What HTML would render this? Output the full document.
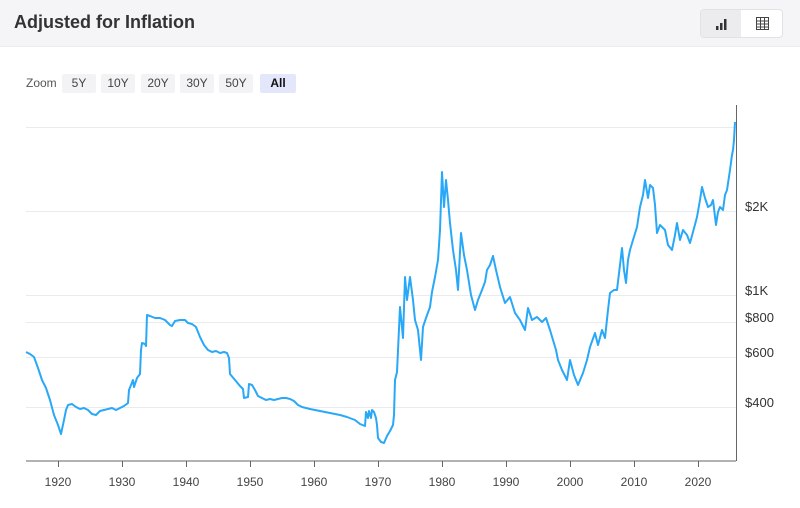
<!DOCTYPE html>
<html><head><style>
body{margin:0;width:800px;height:508px;background:#fff;font-family:"Liberation Sans",sans-serif;overflow:hidden;position:relative}
.hdr{position:absolute;left:0;top:0;width:800px;height:46px;background:#f5f5f7;border-bottom:1px solid #ececee}
.title{position:absolute;left:14px;top:12px;font-size:18px;font-weight:bold;color:#333}
.tg{position:absolute;left:700px;top:9px;width:81px;height:27px;border:1px solid #e2e2e6;border-radius:4px;background:#fff;overflow:hidden}
.tg .a{position:absolute;left:0;top:0;width:40px;height:27px;background:#ececef}
.zoom{position:absolute;top:74px;font-size:12px;color:#555;height:19px;line-height:19px}
.zb{position:absolute;top:74px;height:19px;line-height:19px;font-size:12px;color:#444;background:#f3f3f5;border-radius:2px;text-align:center}
</style></head><body>
<div class="hdr"><div class="title">Adjusted for Inflation</div>
<div class="tg"><div class="a"></div>
<svg width="81" height="27" style="position:absolute;left:0;top:0"><rect x="15" y="16" width="2.5" height="4" fill="#333"/><rect x="19" y="13" width="2.5" height="7" fill="#333"/><rect x="23" y="9" width="2.5" height="11" fill="#333"/>
<g stroke="#444" fill="none" stroke-width="1"><rect x="55.5" y="7.5" width="12" height="12"/><line x1="55.5" y1="11" x2="67.5" y2="11"/><line x1="55.5" y1="14" x2="67.5" y2="14"/><line x1="55.5" y1="17" x2="67.5" y2="17"/><line x1="59.5" y1="7.5" x2="59.5" y2="19.5"/><line x1="63.5" y1="7.5" x2="63.5" y2="19.5"/></g></svg></div></div>
<div class="zoom" style="left:26px">Zoom</div>
<div class="zb" style="left:62px;width:34px">5Y</div>
<div class="zb" style="left:101px;width:34px">10Y</div>
<div class="zb" style="left:141px;width:34px">20Y</div>
<div class="zb" style="left:180px;width:34px">30Y</div>
<div class="zb" style="left:219px;width:34px">50Y</div>
<div class="zb" style="left:260px;width:36px;background:#e4e6fb;color:#111;font-weight:bold">All</div>
<svg width="800" height="508" style="position:absolute;left:0;top:0">
<g stroke="#ebebed" stroke-width="1">
<line x1="26" y1="127.5" x2="736" y2="127.5"/><line x1="26" y1="211.5" x2="736" y2="211.5"/><line x1="26" y1="295.5" x2="736" y2="295.5"/><line x1="26" y1="322.5" x2="736" y2="322.5"/><line x1="26" y1="357.5" x2="736" y2="357.5"/><line x1="26" y1="407.5" x2="736" y2="407.5"/></g>
<line x1="26" y1="461" x2="736" y2="461" stroke="#666" stroke-width="1"/>
<line x1="736.5" y1="105" x2="736.5" y2="461" stroke="#666" stroke-width="1"/>
<g stroke="#666"><line x1="58.5" y1="461" x2="58.5" y2="467"/><line x1="122.5" y1="461" x2="122.5" y2="467"/><line x1="186.5" y1="461" x2="186.5" y2="467"/><line x1="250.5" y1="461" x2="250.5" y2="467"/><line x1="314.5" y1="461" x2="314.5" y2="467"/><line x1="378.5" y1="461" x2="378.5" y2="467"/><line x1="442.5" y1="461" x2="442.5" y2="467"/><line x1="506.5" y1="461" x2="506.5" y2="467"/><line x1="570.5" y1="461" x2="570.5" y2="467"/><line x1="634.5" y1="461" x2="634.5" y2="467"/><line x1="698.5" y1="461" x2="698.5" y2="467"/></g>
<g font-size="12" fill="#444" text-anchor="middle" font-family="Liberation Sans,sans-serif">
<text x="58" y="486">1920</text><text x="122" y="486">1930</text><text x="186" y="486">1940</text><text x="250" y="486">1950</text><text x="314" y="486">1960</text><text x="378" y="486">1970</text><text x="442" y="486">1980</text><text x="506" y="486">1990</text><text x="570" y="486">2000</text><text x="634" y="486">2010</text><text x="698" y="486">2020</text></g>
<g font-size="13" fill="#333" font-family="Liberation Sans,sans-serif">
<text x="745" y="211">$2K</text><text x="745" y="295">$1K</text><text x="745" y="322">$800</text><text x="745" y="357">$600</text><text x="745" y="407">$400</text></g>
<polyline fill="none" stroke="#2aa8f8" stroke-width="2" stroke-linejoin="round" points="26,352 30,354 34,357 38,368 42,380 46,388 50,400 54,415 58,425 61,434 64,420 66,410 68,405 72,404 76,407 80,409 84,408 88,410 92,414 96,415 100,411 104,410 108,409 112,408 116,410 120,408 124,406 128,403 129,390 131,385 133,380 134,387 137,378 140,374 141,350 142,343 145,344 146,346 147,315 150,316 155,318 160,318 165,320 170,325 172,326 175,321 180,320 185,320 188,323 192,324 196,327 200,337 204,345 208,350 212,352 216,351 220,353 224,352 227,353 229,358 230,374 235,380 240,386 243,389 244,398 248,397 249,384 252,385 255,390 258,396 262,398 266,400 270,399 274,400 278,399 282,398 286,398 290,399 294,401 298,405 302,407 310,409 320,411 330,413 340,415 347,417 355,420 360,424 365,426 366,412 368,418 369,411 371,418 372,410 374,412 376,418 377,425 378,438 381,442 384,443 387,436 390,431 393,425 394,415 395,380 397,372 400,307 403,338 405,277 407,300 410,277 413,300 415,320 418,330 421,360 423,327 426,318 430,307 432,292 435,277 438,260 440,230 442,172 444,207 446,180 448,200 450,223 453,250 456,270 458,290 461,233 464,255 467,270 471,295 475,310 478,300 482,290 485,282 487,270 490,265 493,256 496,270 500,287 505,303 510,297 515,313 520,320 525,330 528,308 532,320 537,317 542,322 546,318 550,330 553,340 556,350 558,360 562,370 567,380 570,360 574,375 578,385 583,373 587,360 590,347 595,333 598,345 602,330 605,338 608,310 610,293 614,290 617,290 620,265 622,248 624,270 626,283 628,260 630,250 633,240 637,227 640,207 643,195 645,180 648,198 650,185 653,188 655,205 657,233 660,225 665,230 668,245 672,250 675,235 677,223 680,240 683,230 687,235 690,243 693,232 697,217 700,200 702,187 705,198 708,207 711,205 713,200 716,225 718,212 720,207 723,210 725,195 727,190 730,170 732,155 733,150 734,140 735,122"/>
</svg>
</body></html>
